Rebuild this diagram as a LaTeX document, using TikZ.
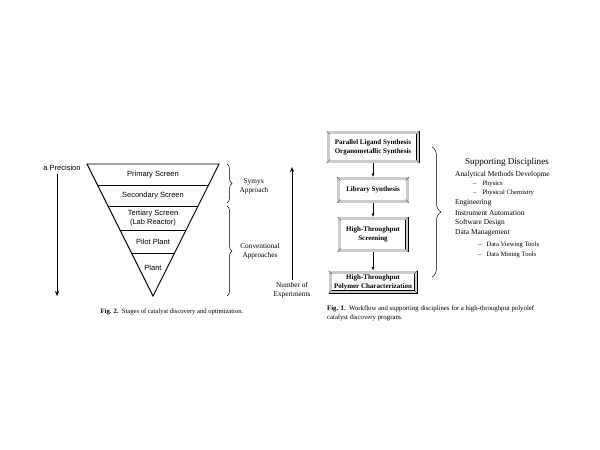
\documentclass[tikz,border=0pt]{standalone}
\usepackage{fontspec}
\setmainfont{Liberation Serif}
\newfontfamily\helv{Liberation Sans}
\usetikzlibrary{arrows.meta,decorations.pathreplacing,calc}

\tikzset{
  tier/.style={font=\helv\fontsize{7.5}{8.6}\selectfont, align=center, inner sep=0pt},
  sidenote/.style={font=\fontsize{7.3}{9}\selectfont, align=center, inner sep=0pt},
  flowbox/.style={draw, line width=0.4pt, double=black!20, double distance=2.6pt,
    fill=white, align=center, font=\bfseries\fontsize{7}{9}\selectfont,
    inner sep=1pt, outer sep=1.7pt},
  listitem/.style={anchor=west, inner sep=0pt, font=\fontsize{7.4}{8}\selectfont},
  subitem/.style={anchor=west, inner sep=0pt, font=\fontsize{6.6}{8}\selectfont},
  bracket/.style={decorate, decoration={brace, amplitude=#1}, line width=0.5pt},
}
\newcommand{\bevel}[1]{%
  \draw[line width=0.3pt] (#1.north west) -- ++(3.4,3.4);
  \draw[line width=0.3pt] (#1.north east) -- ++(-3.4,3.4);
  \draw[line width=0.3pt] (#1.south west) -- ++(3.4,-3.4);
  \draw[line width=0.3pt] (#1.south east) -- ++(-3.4,-3.4);}

\begin{document}
\begin{tikzpicture}[x=1pt,y=-1pt]
\useasboundingbox (0,0) rectangle (600,450);

% stages of catalyst discovery
\coordinate (tl) at (87,164);
\coordinate (tr) at (219,164);
\coordinate (ap) at (153,296);
\draw[line width=0.9pt] (tl) -- (tr) -- (ap) -- cycle;
\foreach \yy in {185,206,230,253}
  \draw[line width=0.7pt] ($(tl)!{(\yy-164)/132}!(ap)$) -- ($(tr)!{(\yy-164)/132}!(ap)$);
\node[tier] (prim) at (153,175) {Primary Screen};
\node[tier] (sec) at (153,196) {Secondary Screen};
\node[tier] (tert) at (153,218) {Tertiary Screen\\(Lab Reactor)};
\node[tier] (pilot) at (153,242) {Pilot Plant};
\node[tier] (plant) at (153,268) {Plant};

\node[tier] (prec) at (62,168) {a Precision};
\coordinate (pa) at (57,174);
\coordinate (pb) at (57,296);
\draw[line width=0.7pt, -{Stealth[length=5pt,width=4pt]}] (pa) -- (pb);

\draw[bracket=5pt] (227,164) -- (227,203);
\draw[bracket=5pt] (227,206) -- (227,296);
\node[sidenote] (symyx) at (254,186) {Symyx\\Approach};
\node[sidenote] (conv) at (260,251) {Conventional\\Approaches};

\node[sidenote] (nexp) at (292,290) {Number of\\Experiments};
\coordinate (ea) at (292,280);
\coordinate (eb) at (292,167);
\draw[line width=0.7pt, -{Stealth[length=5pt,width=4pt]}] (ea) -- (eb);

\node[font=\fontsize{6.6}{8}\selectfont, inner sep=0pt] (cap2) at (172,312)
  {\textbf{Fig. 2.}\ \ Stages of catalyst discovery and optimization.};

% workflow
\node[flowbox, minimum width=89.6pt, minimum height=28.6pt] (pls) at (373,147)
  {Parallel Ligand Synthesis\\Organometallic Synthesis};
\node[flowbox, minimum width=68.6pt, minimum height=22.6pt] (libs) at (373,190)
  {Library Synthesis};
\node[flowbox, minimum width=67.6pt, minimum height=31.6pt] (hts) at (373,234.5)
  {High-Throughput\\Screening};
\node[flowbox, minimum width=85.6pt, minimum height=19.6pt] (hpc) at (373,282)
  {High-Throughput\\Polymer Characterization};
\foreach \b in {pls,libs,hts,hpc} {\bevel{\b}}

\draw[line width=0.6pt, -{Latex[length=3.5pt,width=3pt]}] (pls) -- (libs);
\draw[line width=0.6pt, -{Latex[length=3.5pt,width=3pt]}] (libs) -- (hts);
\draw[line width=0.6pt, -{Latex[length=3.5pt,width=3pt]}] (hts) -- (hpc);

\draw[bracket=9pt] (432,147) -- (432,277);

\node[font=\fontsize{9.1}{10}\selectfont, inner sep=0pt] (supp) at (507,162) {Supporting Disciplines};
\node[listitem] (ana) at (455,175) {Analytical Methods Developme};
\node[subitem] (phys) at (473,183.5) {--\hspace{6pt}Physics};
\node[subitem] (pchem) at (473,193) {--\hspace{6pt}Physical Chemistry};
\node[listitem] (eng) at (455,203) {Engineering};
\node[listitem] (inst) at (455,213) {Instrument Automation};
\node[listitem] (soft) at (455,223) {Software Design};
\node[listitem] (dmg) at (455,233) {Data Management};
\node[subitem] (view) at (478,245) {--\hspace{5pt}Data Viewing Tools};
\node[subitem] (mine) at (478,254.5) {--\hspace{5pt}Data Mining Tools};

\node[anchor=west, align=left, inner sep=0pt, font=\fontsize{6.8}{9}\selectfont] (cap1) at (327,313.5)
  {\textbf{Fig. 1.}\ \ Workflow and supporting disciplines for a high-throughput polyolef\\catalyst discovery program.};
\end{tikzpicture}
\end{document}
